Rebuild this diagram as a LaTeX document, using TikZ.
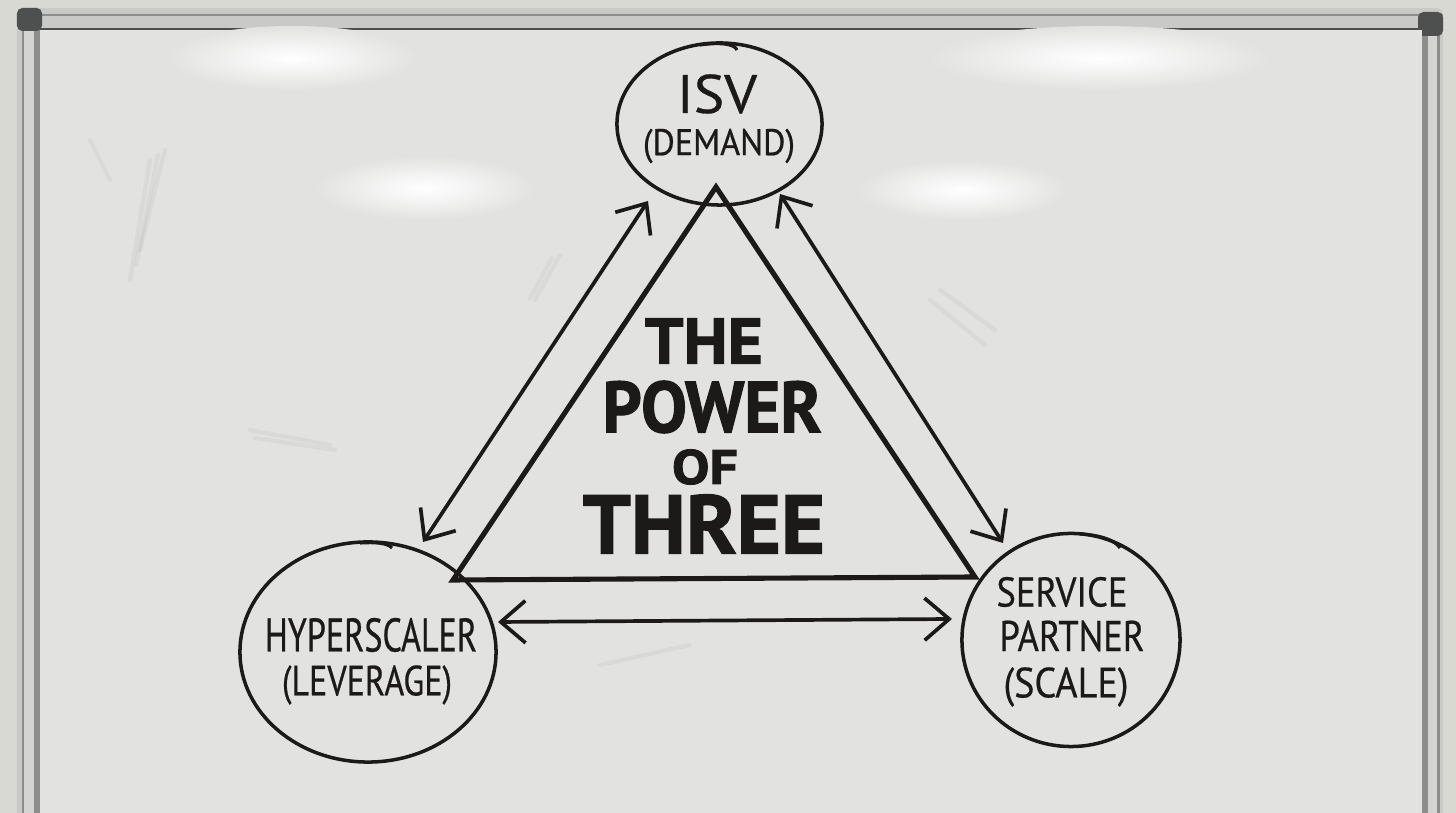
\documentclass[tikz,border=0pt]{standalone}
\usepackage{fontspec}
\setmainfont{PT Sans}
\newfontface\handfont[FakeBold=0.6]{PT Sans}
\newfontface\markerfont[FakeBold=1.6]{PT Sans Bold}
\usetikzlibrary{arrows.meta,shapes.geometric}
\definecolor{wall}{HTML}{D9D9D3}
\definecolor{board}{HTML}{E2E3E1}
\definecolor{alu}{HTML}{C9CAC8}
\definecolor{alud}{HTML}{8C8D8C}
\definecolor{cornerc}{HTML}{4E4F4F}
\definecolor{ink}{HTML}{1C1A18}
\newcommand\fitw[2]{\setbox0\hbox{#2}\dimen0=\wd0\pgfmathsetmacro\fr{#1/\the\dimen0}\scalebox{\fr}[1]{\box0}}
\tikzset{
  bubble/.style={ellipse, draw=ink, line width=1pt, inner sep=0pt},
  tri/.style={draw=ink, line width=1.45pt, line join=miter, line cap=round},
  dblarrow/.style={draw=ink, line width=1.05pt, line cap=round,
     {Straight Barb[length=7pt,width=12pt,line width=1.05pt]}-{Straight Barb[length=7pt,width=12pt,line width=1.05pt]}},
  hand/.style={text=ink, inner sep=0pt, anchor=center},
  glare/.style={inner color=white, outer color=board},
  smudge/.style={draw=black!60, opacity=0.07, line width=1.2pt, line cap=round}
}
\begin{document}
\begin{tikzpicture}[x=0.01cm,y=-0.01cm]
\useasboundingbox (0,0) rectangle (1456,813);
% wall
\fill[wall] (0,0) rectangle (1456,813);
% frame
\fill[alu, rounded corners=2pt] (17,8) rectangle (1443,840);
\fill[alud] (22,30) rectangle (40,840);
\fill[alu!80!white] (24,30) rectangle (34,840);
\fill[alud] (1422,30) rectangle (1440,840);
\fill[alu!80!white] (1428,30) rectangle (1437,840);
\draw[alud, line width=0.6pt] (17,15) -- (1443,15);
\draw[black!70, line width=0.8pt] (40,29) -- (1422,29);
\fill[cornerc, rounded corners=1.5pt] (17,8) -- (42,8) -- (42,31) -- (17,31) -- cycle;
\fill[cornerc, rounded corners=1.5pt] (1418,12) -- (1443,12) -- (1443,36) -- (1418,36) -- cycle;
% board
\fill[board] (40,30) rectangle (1422,840);
% glare
\shade[glare] (292,58) ellipse [x radius=125, y radius=32];
\shade[glare] (425,188) ellipse [x radius=110, y radius=32];
\shade[glare] (962,190) ellipse [x radius=105, y radius=30];
\shade[glare] (1100,58) ellipse [x radius=170, y radius=32];
% smudges
\draw[smudge] (150,160) -- (130,280);
\draw[smudge] (165,150) -- (140,250);
\draw[smudge] (158,155) -- (136,265);
\draw[smudge] (560,255) -- (535,300);
\draw[smudge] (552,258) -- (530,298);
\draw[smudge] (940,290) -- (995,330);
\draw[smudge] (930,300) -- (985,345);
\draw[smudge] (250,430) -- (330,445);
\draw[smudge] (255,438) -- (335,450);
\draw[smudge] (600,665) -- (690,645);
\draw[smudge] (90,140) -- (110,180);
% circles
\node[bubble, minimum width=2.05cm, minimum height=1.62cm] (isv) at (719.5,124) {};
\node[bubble, minimum width=2.56cm, minimum height=2.20cm] (hyp) at (368,652) {};
\node[bubble, minimum width=2.18cm, minimum height=2.13cm] (svc) at (1071,640) {};
% stroke overlaps
\draw[ink, line width=0.9pt] (700,45) .. controls (720,42) and (735,44) .. (737,50);
\draw[ink, line width=0.9pt] (360,543) .. controls (375,542) and (388,543) .. (392,548);
\draw[ink, line width=0.9pt] (1080,534) .. controls (1100,535) and (1115,540) .. (1120,548);
% triangle
\coordinate (apex) at (716,187);
\coordinate (bl) at (453,580);
\coordinate (br) at (975,577);
\draw[tri] (apex) -- (bl) -- (br) -- cycle;
% arrows
\coordinate (la) at (648,201);
\coordinate (lb) at (423,542);
\coordinate (ra) at (780,194);
\coordinate (rb) at (1003,543);
\coordinate (ba) at (498,622);
\coordinate (bb) at (952,619);
\draw[dblarrow] (lb) -- (la);
\draw[dblarrow] (ra) -- (rb);
\draw[dblarrow] (ba) -- (bb);
% texts
\node[hand] (tisv) at (717,94) {\fitw{0.80cm}{\fontsize{15.4}{16}\handfont ISV}};
\node[hand] (tdem) at (719,146) {\fitw{1.52cm}{\fontsize{10.5}{12}\handfont (DEMAND)}};
\node[hand] (tthe) at (704,341) {\fitw{1.18cm}{\fontsize{18.3}{20}\markerfont THE}};
\node[hand] (tpow) at (712,407) {\fitw{2.19cm}{\fontsize{20.5}{22}\markerfont POWER}};
\node[hand] (tof) at (705,467) {\fitw{0.66cm}{\fontsize{13.8}{15}\markerfont OF}};
\node[hand] (tthr) at (704,524) {\fitw{2.42cm}{\fontsize{23.6}{25}\markerfont THREE}};
\node[hand] (thyp) at (371,635) {\fitw{2.12cm}{\fontsize{13.4}{15}\handfont HYPERSCALER}};
\node[hand] (tlev) at (367,685) {\fitw{1.70cm}{\fontsize{12}{14}\handfont (LEVERAGE)}};
\node[hand] (tser) at (1062,592) {\fitw{1.31cm}{\fontsize{11.8}{13}\handfont SERVICE}};
\node[hand] (tpar) at (1072,636) {\fitw{1.45cm}{\fontsize{12.2}{13}\handfont PARTNER}};
\node[hand] (tsca) at (1066,687) {\fitw{1.25cm}{\fontsize{12}{14}\handfont (SCALE)}};
\end{tikzpicture}
\end{document}
